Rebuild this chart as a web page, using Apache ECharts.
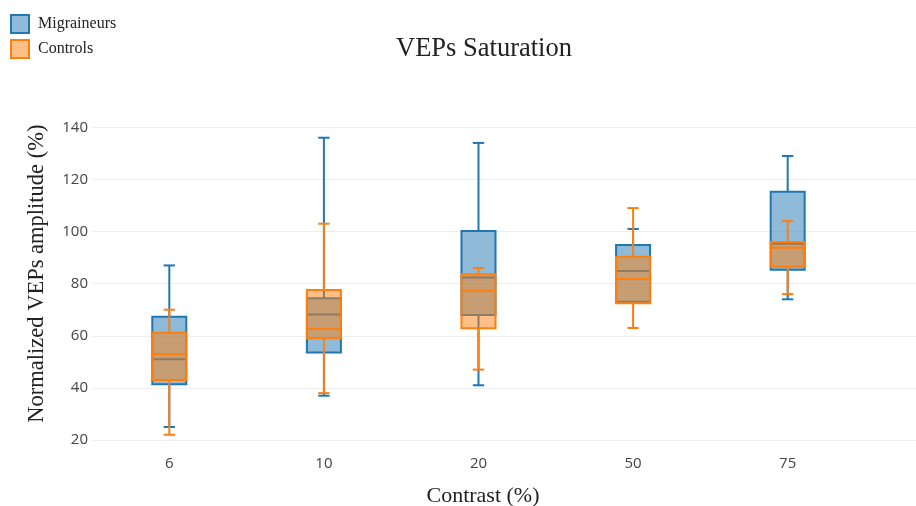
<!DOCTYPE html>
<html>
<head>
<meta charset="utf-8">
<script src="https://cdn.jsdelivr.net/npm/echarts@6/dist/echarts.min.js"></script>
<style>html,body{margin:0;padding:0;background:#fff}#c{width:916px;height:506px}</style>
</head>
<body>
<div id="c"></div>
<script>
// Categories (contrast %)
const categories = ['6', '10', '20', '50', '75'];
// Box stats per category: [min, q1, median, q3, max]
const migraineurs = [
  [25, 41.4, 51.0, 67.3, 87],
  [37, 53.6, 68.2, 74.4, 136],
  [41, 68.0, 82.4, 100.2, 134],
  [73, 73.1, 84.9, 94.8, 101],
  [74, 85.3, 95.3, 115.3, 129]
];
const controls = [
  [22, 43.0, 53.0, 61.2, 70],
  [38, 59.0, 62.6, 77.6, 103],
  [47, 62.9, 77.3, 83.6, 86],
  [63, 72.5, 81.8, 90.3, 109],
  [76, 86.5, 93.8, 96.0, 104]
];
const yTicks = [20, 40, 60, 80, 100, 120, 140];

const BLUE = '#1f77b4', BLUE_F = 'rgba(31,119,180,0.5)';
const ORANGE = '#ff7f0e', ORANGE_F = 'rgba(255,127,14,0.5)';

function makeRender(stroke, fill) {
  return function (params, api) {
    const x = api.value(0);
    const band = api.size([1, 0])[0];
    const bw = band * 0.22, half = bw / 2, capHalf = bw / 6;
    const cx = api.coord([x, 0])[0];
    const yMin = api.coord([x, api.value(1)])[1];
    const yQ1 = api.coord([x, api.value(2)])[1];
    const yMed = api.coord([x, api.value(3)])[1];
    const yQ3 = api.coord([x, api.value(4)])[1];
    const yMax = api.coord([x, api.value(5)])[1];
    const ls = { stroke: stroke, lineWidth: 2, fill: null };
    return {
      type: 'group',
      children: [
        { type: 'rect', shape: { x: cx - half, y: yQ3, width: bw, height: yQ1 - yQ3 },
          style: { fill: fill, stroke: stroke, lineWidth: 2 } },
        { type: 'line', shape: { x1: cx - half, y1: yMed, x2: cx + half, y2: yMed }, style: ls },
        { type: 'line', shape: { x1: cx, y1: yQ3, x2: cx, y2: yMax }, style: ls },
        { type: 'line', shape: { x1: cx, y1: yQ1, x2: cx, y2: yMin }, style: ls },
        { type: 'line', shape: { x1: cx - capHalf, y1: yMax, x2: cx + capHalf, y2: yMax }, style: ls },
        { type: 'line', shape: { x1: cx - capHalf, y1: yMin, x2: cx + capHalf, y2: yMin }, style: ls }
      ]
    };
  };
}

const toData = arr => arr.map((d, i) => [i].concat(d));

const chart = echarts.init(document.getElementById('c'), null, { renderer: 'canvas' });
chart.setOption({
  animation: false,
  backgroundColor: '#fff',
  title: {
    text: 'VEPs Saturation',
    left: 479, top: 31, textAlign: 'center',
    textStyle: { fontFamily: 'Liberation Serif', fontSize: 26.5, fontWeight: 'normal', color: '#222' }
  },
  legend: {
    orient: 'vertical', left: 5, top: 9,
    itemWidth: 18, itemHeight: 18, itemGap: 5,
    textStyle: { fontFamily: 'Liberation Serif', fontSize: 16, color: '#222', padding: [0, 0, 0, 4] },
    data: [
      { name: 'Migraineurs', icon: 'rect', itemStyle: { color: BLUE_F, borderColor: BLUE, borderWidth: 2 } },
      { name: 'Controls', icon: 'rect', itemStyle: { color: ORANGE_F, borderColor: ORANGE, borderWidth: 2 } }
    ]
  },
  grid: { left: 92, right: 0, top: 127.3, bottom: 66, containLabel: false, outerBoundsMode: 'none' },
  xAxis: {
    type: 'value', min: -0.5, max: 4.83,
    name: 'Contrast (%)', nameLocation: 'middle', nameGap: 45,
    nameTextStyle: { fontFamily: 'Liberation Serif', fontSize: 22, color: '#222', padding: [0, 42, 0, 0] },
    axisLine: { show: false }, axisTick: { show: false }, splitLine: { show: false },
    axisLabel: {
      customValues: categories.map((c, i) => i),
      formatter: v => categories[Math.round(v)],
      margin: 16, fontFamily: 'Open Sans', fontSize: 15, color: '#444'
    }
  },
  yAxis: {
    type: 'value', min: yTicks[0], max: yTicks[yTicks.length - 1], interval: 20,
    name: 'Normalized VEPs amplitude (%)', nameLocation: 'middle', nameGap: 43,
    nameTextStyle: { fontFamily: 'Liberation Serif', fontSize: 22.5, color: '#222', padding: [0, 0, 0, 20] },
    axisLine: { show: false }, axisTick: { show: false },
    splitLine: { show: true, lineStyle: { color: '#eeeeee', width: 1 } },
    axisLabel: { margin: 4, fontFamily: 'Open Sans', fontSize: 15, color: '#444' }
  },
  series: [
    { name: 'Migraineurs', type: 'custom', renderItem: makeRender(BLUE, BLUE_F),
      itemStyle: { color: BLUE_F, borderColor: BLUE },
      encode: { x: 0, y: [1, 2, 3, 4, 5] }, data: toData(migraineurs) },
    { name: 'Controls', type: 'custom', renderItem: makeRender(ORANGE, ORANGE_F),
      itemStyle: { color: ORANGE_F, borderColor: ORANGE },
      encode: { x: 0, y: [1, 2, 3, 4, 5] }, data: toData(controls) }
  ]
});
</script>
</body>
</html>
